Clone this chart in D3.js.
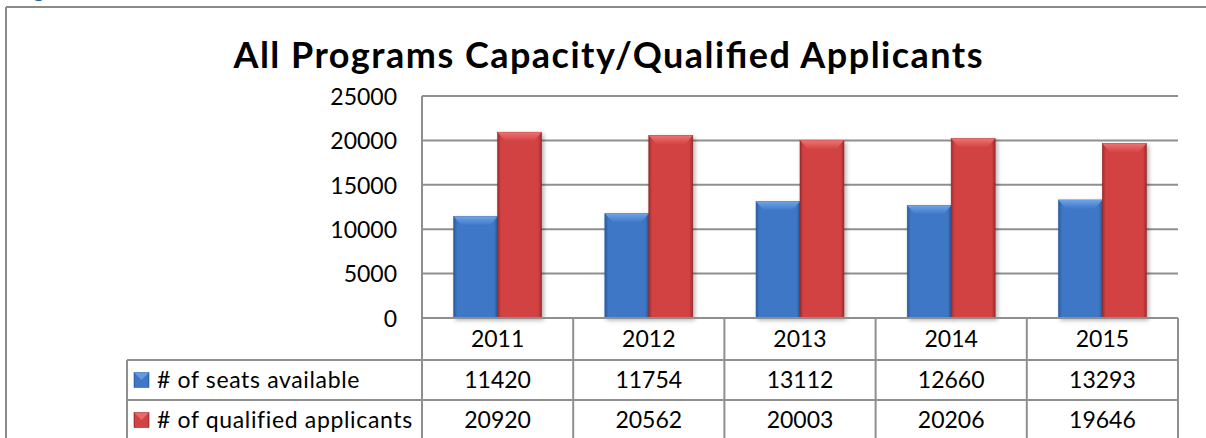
<!DOCTYPE html>
<html>
<head>
<meta charset="utf-8">
<script src="https://cdn.jsdelivr.net/npm/d3@7"></script>
<style>
  html, body { margin: 0; padding: 0; background: #fff; }
  svg { display: block; }
</style>
</head>
<body>
<svg id="chart" width="1206" height="438"></svg>
<script>
// Chart data
const years = ["2011", "2012", "2013", "2014", "2015"];
const seriesNames = ["# of seats available", "# of qualified applicants"];
const seatsAvailable = [11420, 11754, 13112, 12660, 13293];
const qualifiedApplicants = [20920, 20562, 20003, 20206, 19646];
const yTicks = [0, 5000, 10000, 15000, 20000, 25000];
const chartTitle = "All Programs Capacity/Qualified Applicants";

const seriesValues = [seatsAvailable, qualifiedApplicants];
const palettes = [
  { face: "#3d77c6", light: "#6fa3e6", dark: "#285a9e", edge: "#2c5f9f" },
  { face: "#d24343", light: "#ef7272", dark: "#a12c2c", edge: "#8f2424" }
];

const svg = d3.select("#chart");
const font = "Lato, 'Open Sans', sans-serif";
const gridColor = "#8f8f8f";

// Plot geometry
const plot = { left: 422, right: 1178, top: 96, bottom: 318 };
const tableLeft = 127;
const rowY = [318, 360, 400, 440];

const x0 = d3.scaleBand().domain(years).range([plot.left, plot.right]).padding(0);
const x1 = d3.scaleBand().domain(d3.range(seriesNames.length))
  .range([0, x0.bandwidth()]).paddingInner(0).paddingOuter(0.72);
const y = d3.scaleLinear().domain([0, 25000]).range([plot.bottom, plot.top]);

// Gradients and shadow
const defs = svg.append("defs");
palettes.forEach((p, i) => {
  const g = defs.append("linearGradient").attr("id", "face" + i)
    .attr("x1", 0).attr("x2", 1).attr("y1", 0).attr("y2", 0);
  g.append("stop").attr("offset", "0%").attr("stop-color", p.dark);
  g.append("stop").attr("offset", "8%").attr("stop-color", p.face);
  g.append("stop").attr("offset", "50%").attr("stop-color", p.face);
  g.append("stop").attr("offset", "92%").attr("stop-color", p.face);
  g.append("stop").attr("offset", "100%").attr("stop-color", p.dark);
  const t = defs.append("linearGradient").attr("id", "top" + i)
    .attr("x1", 0).attr("x2", 0).attr("y1", 0).attr("y2", 1);
  t.append("stop").attr("offset", "0%").attr("stop-color", p.light);
  t.append("stop").attr("offset", "100%").attr("stop-color", p.face);
});
const shadow = defs.append("filter").attr("id", "shadow")
  .attr("x", "-20%").attr("y", "-10%").attr("width", "150%").attr("height", "130%");
shadow.append("feDropShadow").attr("dx", 2).attr("dy", 2).attr("stdDeviation", 2)
  .attr("flood-color", "#000").attr("flood-opacity", 0.3);

// Outer frame
svg.append("line").attr("x1", 6).attr("x2", 1206).attr("y1", 7).attr("y2", 7)
  .attr("stroke", "#8a8a8a").attr("stroke-width", 2);
svg.append("line").attr("x1", 6).attr("x2", 6).attr("y1", 7).attr("y2", 438)
  .attr("stroke", "#8a8a8a").attr("stroke-width", 2);

// Heading fragment above the frame
svg.append("text").attr("x", 33).attr("y", -3).attr("font-family", font)
  .attr("font-size", 22).attr("font-weight", "bold").attr("fill", "#2f5f9e").text("g");

// Title
svg.append("text").attr("x", 608).attr("y", 68).attr("text-anchor", "middle")
  .attr("font-family", font).attr("font-weight", "bold").attr("font-size", 36)
  .attr("textLength", 749).attr("lengthAdjust", "spacing")
  .attr("fill", "#000").text(chartTitle);

// Gridlines
svg.append("g").selectAll("line").data(yTicks.filter(d => d > 0)).join("line")
  .attr("x1", plot.left).attr("x2", plot.right)
  .attr("y1", d => y(d)).attr("y2", d => y(d))
  .attr("stroke", gridColor).attr("stroke-width", 2);

// Y axis labels
const yAxis = d3.axisLeft(y).tickValues(yTicks).tickSize(0).tickPadding(25)
  .tickFormat(d3.format("d"));
const yg = svg.append("g").attr("transform", `translate(${plot.left},0)`).call(yAxis);
yg.select(".domain").remove();
yg.selectAll("text").attr("font-family", font).attr("font-size", 23).attr("fill", "#000")
  .attr("dy", "0.36em");

// Bars
const groups = svg.append("g").selectAll("g").data(years).join("g")
  .attr("transform", d => `translate(${x0(d)},0)`);
groups.each(function (year, yi) {
  const g = d3.select(this);
  seriesValues.forEach((vals, si) => {
    const v = vals[yi];
    const bx = x1(si), bw = x1.bandwidth();
    const by = y(v), bh = y(0) - y(v);
    const bar = g.append("g").attr("filter", "url(#shadow)");
    bar.append("rect").attr("x", bx).attr("y", by).attr("width", bw).attr("height", bh)
      .attr("fill", `url(#face${si})`).attr("stroke", palettes[si].edge).attr("stroke-width", 0.6);
    const bev = 9, side = 4;
    bar.append("path")
      .attr("d", `M${bx},${by} L${bx + bw},${by} L${bx + bw - side * 2},${by + bev} L${bx + side * 2},${by + bev} Z`)
      .attr("fill", `url(#top${si})`);
  });
});

// Data table lines
const tl = svg.append("g").attr("stroke", gridColor).attr("stroke-width", 2);
tl.append("line").attr("x1", plot.left).attr("x2", plot.right).attr("y1", rowY[0]).attr("y2", rowY[0]);
[rowY[1], rowY[2]].forEach(yy => {
  tl.append("line").attr("x1", tableLeft).attr("x2", plot.right).attr("y1", yy).attr("y2", yy);
});
tl.append("line").attr("x1", plot.left).attr("x2", plot.left).attr("y1", plot.top).attr("y2", 438);
tl.append("line").attr("x1", tableLeft).attr("x2", tableLeft).attr("y1", rowY[1]).attr("y2", 438);
years.forEach(yr => {
  const xr = x0(yr) + x0.bandwidth();
  tl.append("line").attr("x1", xr).attr("x2", xr).attr("y1", rowY[0]).attr("y2", 438);
});

// Year header row
svg.append("g").selectAll("text").data(years).join("text")
  .attr("x", d => x0(d) + x0.bandwidth() / 2).attr("y", (rowY[0] + rowY[1]) / 2)
  .attr("dy", "0.36em").attr("text-anchor", "middle")
  .attr("font-family", font).attr("font-size", 23).attr("fill", "#000").text(d => d);

// Series rows
seriesValues.forEach((vals, si) => {
  const cy = (rowY[si + 1] + rowY[si + 2]) / 2;
  const row = svg.append("g");
  row.selectAll("text.val").data(vals).join("text").attr("class", "val")
    .attr("x", (d, i) => x0(years[i]) + x0.bandwidth() / 2).attr("y", cy)
    .attr("dy", "0.36em").attr("text-anchor", "middle")
    .attr("font-family", font).attr("font-size", 23).attr("fill", "#000").text(d => d);
  // legend key
  const kx = 134, ks = 15, ky = cy - ks / 2;
  row.append("rect").attr("x", kx).attr("y", ky).attr("width", ks).attr("height", ks)
    .attr("fill", `url(#face${si})`).attr("stroke", palettes[si].edge).attr("stroke-width", 0.6);
  row.append("path")
    .attr("d", `M${kx},${ky} L${kx + ks},${ky} L${kx + ks / 2},${ky + ks / 2} Z`)
    .attr("fill", palettes[si].light).attr("opacity", 0.8);
  row.append("text").attr("x", 157).attr("y", cy).attr("dy", "0.36em")
    .attr("font-family", font).attr("font-size", 23).attr("letter-spacing", 0.65)
    .attr("fill", "#000").text(seriesNames[si]);
});
</script>
</body>
</html>
